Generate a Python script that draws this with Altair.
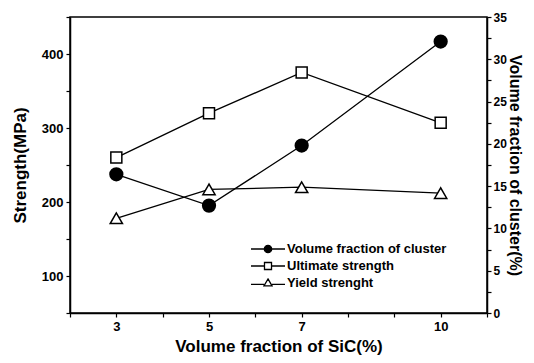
import altair as alt
import pandas as pd

# ---- data ----
sic = [3, 5, 7, 10]
ultimate = [260, 320, 375, 307]
yield_s = [178, 217, 220, 212]
cluster = [16.4, 12.7, 19.8, 32.1]
series_names = ["Volume fraction of cluster", "Ultimate strength", "Yield strenght"]
x_tick_values = [2, 3, 4, 5, 6, 7, 8, 9, 10, 11]
x_label_values = [3, 5, 7, 10]
left_tick_values = [50, 100, 150, 200, 250, 300, 350, 400, 450]
right_tick_values = [0, 2.5, 5, 7.5, 10, 12.5, 15, 17.5, 20, 22.5, 25, 27.5, 30, 32.5, 35]

FONT = "Liberation Sans"

df_u = pd.DataFrame({"sic": sic, "value": ultimate, "series": series_names[1]})
df_y = pd.DataFrame({"sic": sic, "value": yield_s, "series": series_names[2]})
df_c = pd.DataFrame({"sic": sic, "value": cluster, "series": series_names[0]})
df_all = pd.concat([df_c, df_u, df_y])

x_enc = alt.X(
    "sic:Q",
    scale=alt.Scale(domain=[2, 11], nice=False, zero=False),
    axis=alt.Axis(
        values=x_tick_values,
        labelExpr="indexof([3,5,7,10], datum.value) >= 0 ? datum.label : ''",
        title="Volume fraction of SiC(%)",
        titleFontSize=17,
        titlePadding=5,
        labelPadding=3,
    ),
)

left_scale = alt.Scale(domain=[50, 450], nice=False, zero=False)
left_axis = alt.Axis(
    values=left_tick_values,
    labelExpr="datum.value % 100 == 0 ? datum.label : ''",
    title="Strength(MPa)",
    titleFontSize=17,
    titlePadding=12,
    orient="left",
)
y_left = alt.Y("value:Q", scale=left_scale, axis=left_axis)

right_scale = alt.Scale(domain=[0, 35], nice=False, zero=True)
right_axis = alt.Axis(
    values=right_tick_values,
    labelExpr="datum.value % 5 == 0 ? datum.label : ''",
    title="Volume fraction of cluster(%)",
    titleFontSize=16,
    titlePadding=0,
    labelPadding=2,
    labelFontSize=12,
    orient="right",
)
y_right = alt.Y("value:Q", scale=right_scale, axis=right_axis)

line_style = dict(color="black", strokeWidth=1.3)

u_line = alt.Chart(df_u).mark_line(**line_style).encode(x=x_enc, y=y_left)
u_pts = alt.Chart(df_u).mark_point(
    shape="square", size=121, filled=True, fill="white", stroke="black", strokeWidth=1.5, opacity=1
).encode(x=x_enc, y=y_left)
y_line = alt.Chart(df_y).mark_line(**line_style).encode(x=x_enc, y=y_left)
y_pts = alt.Chart(df_y).mark_point(
    shape="triangle-up", size=150, filled=True, fill="white", stroke="black", strokeWidth=1.5, opacity=1
).encode(x=x_enc, y=y_left)

# legend symbols: short line with marker, in units of half the symbol box (box = 18 px)
legend_paths = [
    "M-1.89,0H-0.41M0.41,0H1.89M-0.41,0A0.41,0.41 0 1,0 0.41,0A0.41,0.41 0 1,0 -0.41,0Z",
    "M-1.89,0H-0.39M0.39,0H1.89M-0.39,-0.39H0.39V0.39H-0.39Z",
    "M-1.89,0.15H-0.45M0.45,0.15H1.89M0,-0.45L0.45,0.32H-0.45Z",
]
legend_def = alt.Legend(
    title=None,
    orient="none",
    legendX=188,
    legendY=222,
    labelFont=FONT,
    labelFontSize=13,
    labelFontWeight="bold",
    labelColor="black",
    labelOffset=9,
    rowPadding=0,
    symbolSize=324,
    symbolStrokeWidth=1.3,
)
legend_layer = alt.Chart(df_all).transform_filter("false").mark_point(
    size=324, filled=True, strokeWidth=1.3, opacity=1
).encode(
    x=x_enc,
    y=y_left,
    shape=alt.Shape("series:N", scale=alt.Scale(domain=series_names, range=legend_paths), legend=legend_def),
    fill=alt.Fill("series:N", scale=alt.Scale(domain=series_names, range=["black", "white", "white"]), legend=legend_def),
    stroke=alt.Stroke("series:N", scale=alt.Scale(domain=series_names, range=["black", "black", "black"]), legend=legend_def),
)

left_group = alt.layer(u_line, y_line, u_pts, y_pts, legend_layer)

c_line = alt.Chart(df_c).mark_line(**line_style).encode(x=x_enc, y=y_right)
c_pts = alt.Chart(df_c).mark_point(
    shape="circle", size=150, filled=True, fill="black", stroke="black", opacity=1
).encode(x=x_enc, y=y_right)
right_group = alt.layer(c_line, c_pts)

chart = (
    alt.layer(left_group, right_group)
    .resolve_scale(y="independent")
    .properties(
        width=417,
        height=296,
        autosize=alt.AutoSizeParams(type="none"),
        padding={"left": 62, "top": 9, "right": 39, "bottom": 42},
        background="white",
    )
    .configure_view(stroke="black", strokeWidth=1.5)
    .configure_axis(
        grid=False,
        domainColor="black",
        domainWidth=1.5,
        tickColor="black",
        tickWidth=1.2,
        tickSize=4,
        labelFont=FONT,
        labelFontSize=13,
        labelFontWeight="bold",
        labelColor="black",
        labelPadding=3,
        titleFont=FONT,
        titleFontWeight="bold",
        titleColor="black",
    )
)

chart.save("out.html", embed_options={"renderer": "svg", "actions": False})
